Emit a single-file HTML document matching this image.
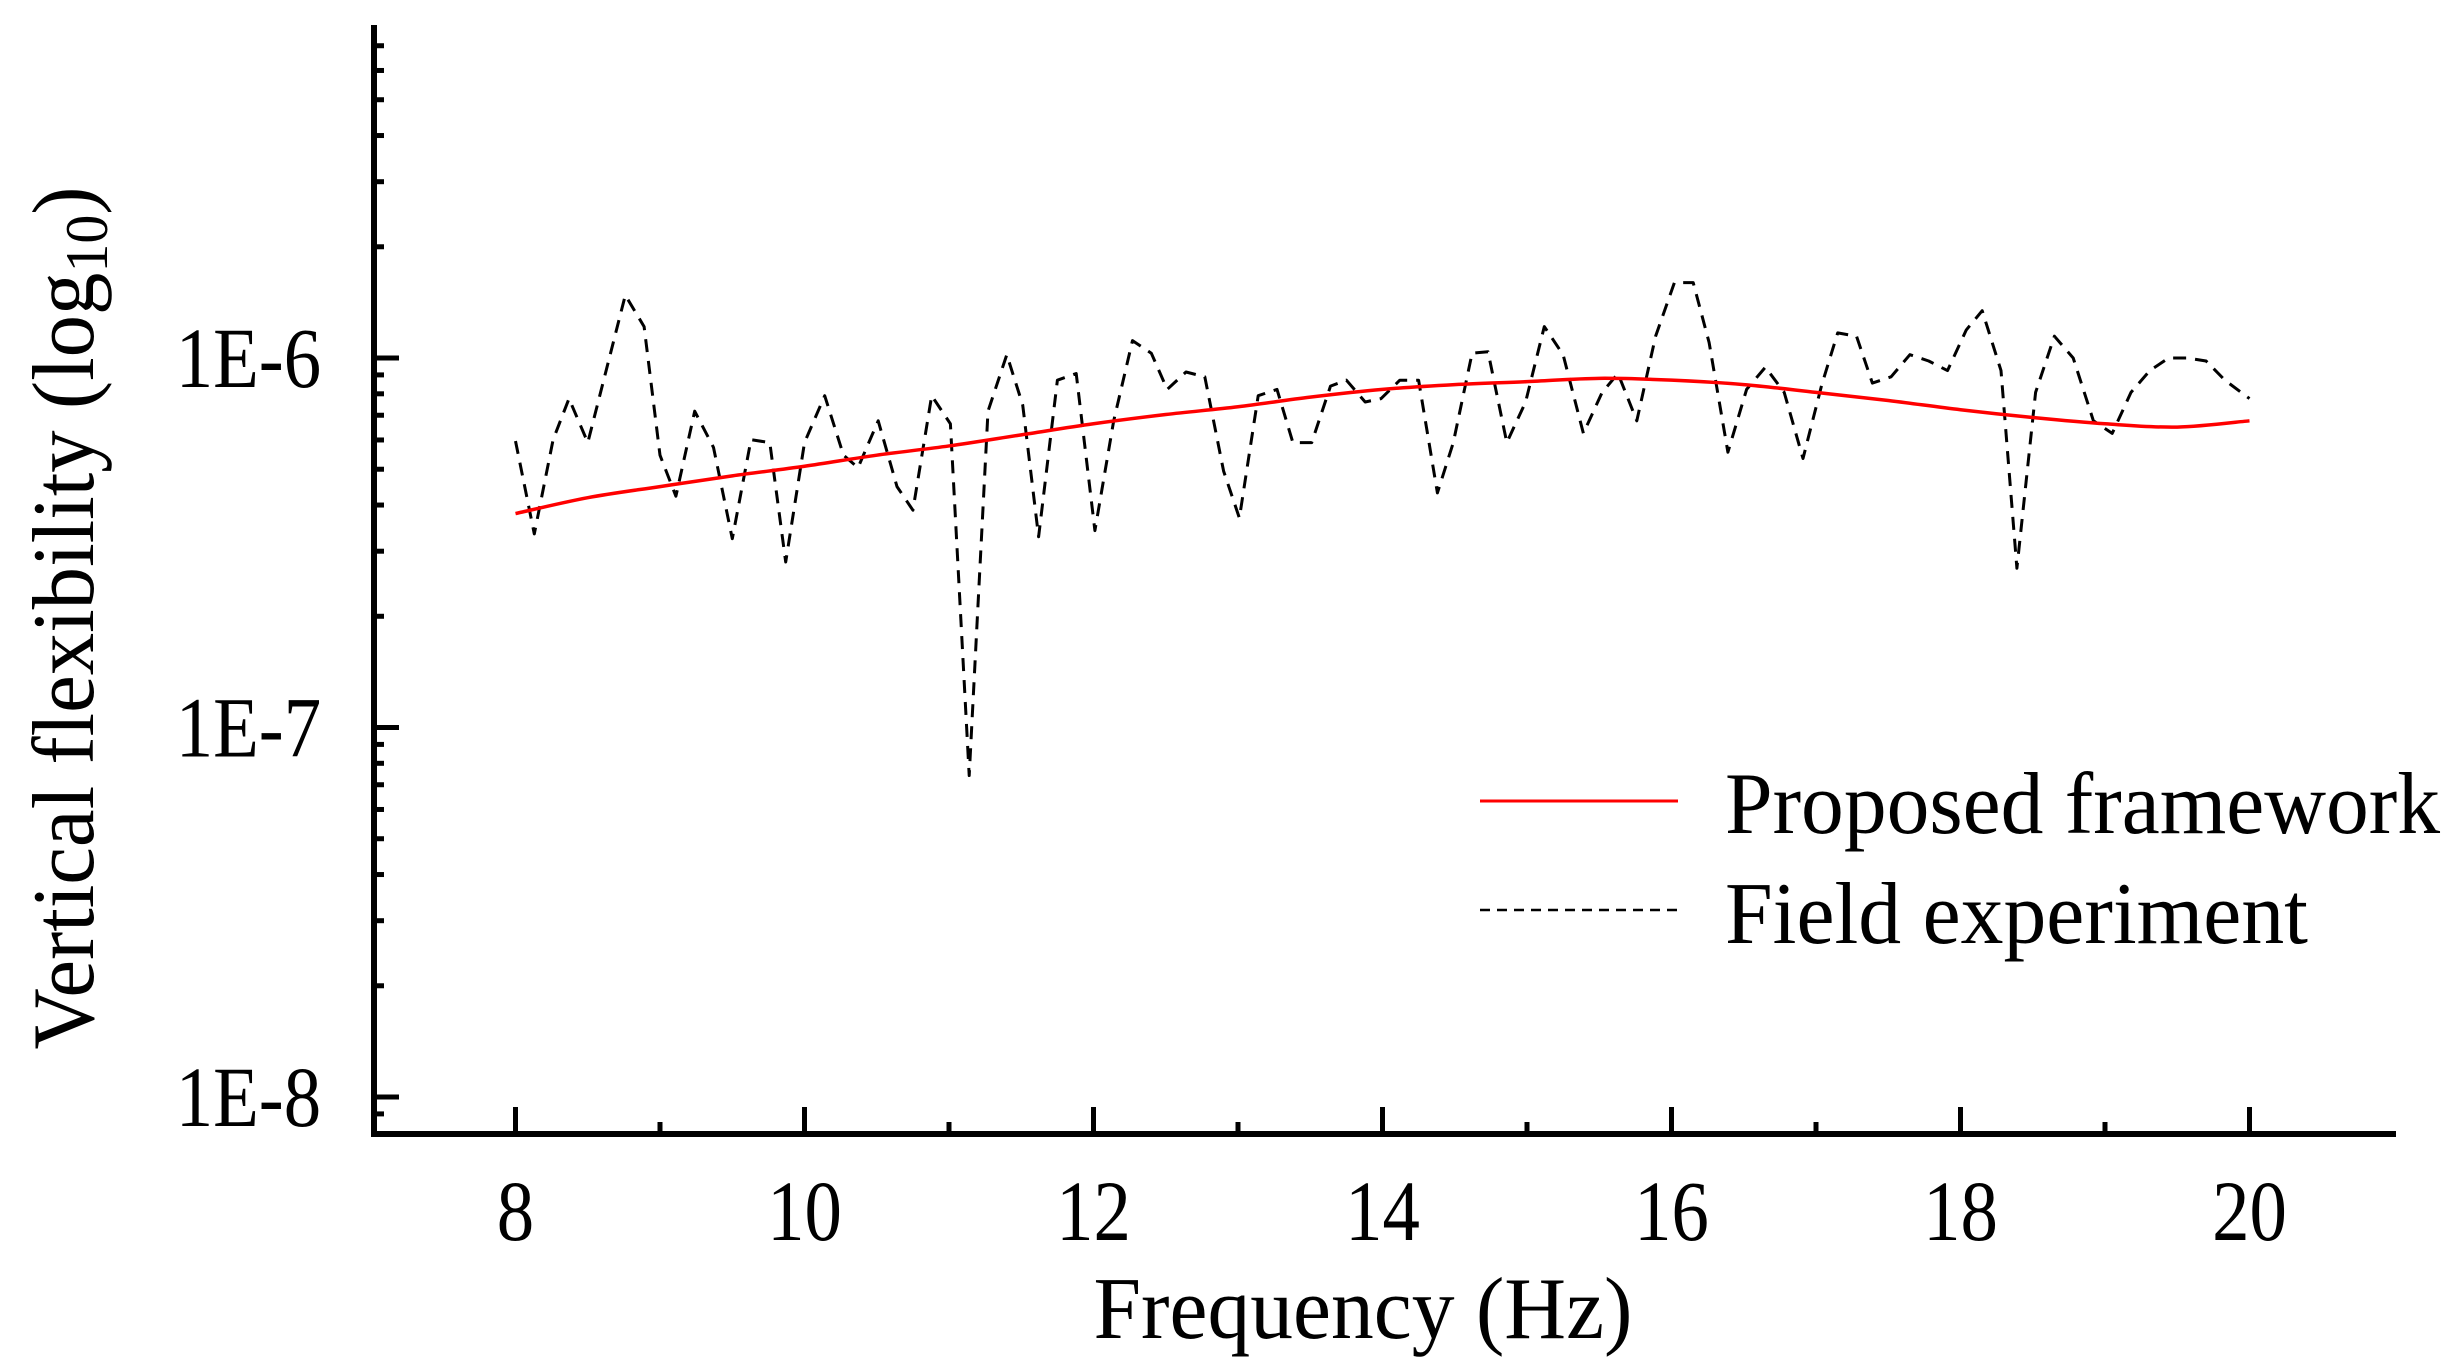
<!DOCTYPE html>
<html><head><meta charset="utf-8"><style>
html,body{margin:0;padding:0;background:#fff;}
svg{display:block;font-family:"Liberation Serif","Times New Roman",serif;}
.tk{transform-box:fill-box;transform-origin:center;transform:scaleX(.87);}
</style></head><body>
<svg id="chart" width="2463" height="1371" viewBox="0 0 2463 1371" xmlns="http://www.w3.org/2000/svg">
<g id="marks"></g>
<g id="axes"></g>
<text x="1363" y="1338" font-size="88" text-anchor="middle" textLength="539" lengthAdjust="spacingAndGlyphs">Frequency (Hz)</text>
<text transform="translate(93,618) rotate(-90)" font-size="88" text-anchor="middle" textLength="863" lengthAdjust="spacingAndGlyphs">Vertical flexibility (log<tspan font-size="60" dy="14">10</tspan><tspan dy="-14">)</tspan></text>
<g>
<line x1="1480" y1="801" x2="1678" y2="801" stroke="#ff0000" stroke-width="3"/>
<text x="1725" y="833" font-size="88" textLength="715" lengthAdjust="spacingAndGlyphs">Proposed framework</text>
<line x1="1480" y1="910" x2="1678" y2="910" stroke="#000" stroke-width="2.5" stroke-dasharray="10,7"/>
<text x="1725" y="943" font-size="88" textLength="583" lengthAdjust="spacingAndGlyphs">Field experiment</text>
</g>
</svg>
<script>
const xTickLabels=["8","10","12","14","16","18","20"];
const xTickValues=[8,10,12,14,16,18,20];
const yTickLabels=["1E-6","1E-7","1E-8"];
const yTickExps=[-6,-7,-8];
const proposedFreq=[8,8.5,9,9.5,10,10.5,11,11.5,12,12.5,13,13.5,14,14.5,15,15.5,16,16.5,17,17.5,18,18.5,19,19.5,20];
const proposedLog=[-6.421,-6.378,-6.348,-6.319,-6.293,-6.263,-6.238,-6.208,-6.178,-6.153,-6.132,-6.106,-6.085,-6.072,-6.064,-6.055,-6.060,-6.072,-6.093,-6.115,-6.140,-6.161,-6.178,-6.187,-6.170];
const fieldFreq=[8.00,8.13,8.26,8.37,8.50,8.63,8.76,8.89,9.00,9.11,9.24,9.37,9.50,9.63,9.76,9.87,10.00,10.14,10.27,10.37,10.51,10.64,10.75,10.88,11.01,11.14,11.27,11.40,11.51,11.62,11.75,11.88,12.01,12.14,12.27,12.40,12.51,12.64,12.77,12.90,13.01,13.14,13.27,13.38,13.51,13.64,13.75,13.88,13.99,14.12,14.25,14.38,14.49,14.62,14.73,14.86,14.99,15.12,15.25,15.39,15.52,15.63,15.76,15.89,16.02,16.15,16.26,16.39,16.52,16.65,16.78,16.91,17.04,17.15,17.28,17.39,17.52,17.65,17.78,17.91,18.04,18.15,18.28,18.39,18.52,18.65,18.78,18.92,19.05,19.18,19.31,19.44,19.57,19.70,19.83,20.00];
const fieldLog=[-6.225,-6.476,-6.221,-6.110,-6.229,-6.030,-5.830,-5.915,-6.263,-6.374,-6.144,-6.242,-6.489,-6.221,-6.229,-6.552,-6.229,-6.102,-6.263,-6.297,-6.170,-6.348,-6.412,-6.102,-6.178,-7.130,-6.144,-5.991,-6.127,-6.484,-6.060,-6.042,-6.467,-6.170,-5.953,-5.987,-6.085,-6.038,-6.051,-6.306,-6.433,-6.102,-6.085,-6.229,-6.229,-6.076,-6.060,-6.119,-6.110,-6.060,-6.060,-6.365,-6.229,-5.987,-5.983,-6.229,-6.119,-5.915,-5.991,-6.204,-6.093,-6.042,-6.170,-5.941,-5.796,-5.796,-5.958,-6.255,-6.085,-6.025,-6.093,-6.272,-6.072,-5.932,-5.941,-6.068,-6.051,-5.991,-6.008,-6.034,-5.924,-5.872,-6.034,-6.569,-6.093,-5.941,-6.000,-6.170,-6.204,-6.093,-6.034,-6.000,-6.000,-6.008,-6.060,-6.110];

const NS="http://www.w3.org/2000/svg";
const X0=374,X1=2393,Y0=28,Y1=1134;
function xs(f){return 515.5+(f-8)*144.5;}
function ys(l){return 358+(-6-l)*369.5;}
function mk(tag,attrs,parent){const e=document.createElementNS(NS,tag);for(const k in attrs)e.setAttribute(k,attrs[k]);parent.appendChild(e);return e;}
const marks=document.getElementById('marks');
const axes=document.getElementById('axes');

// field experiment (dashed polyline)
let d="";
fieldFreq.forEach((f,i)=>{d+=(i?"L":"M")+xs(f).toFixed(1)+","+ys(fieldLog[i]).toFixed(1);});
const fp=mk('path',{d:d,fill:"none",stroke:"#000","stroke-width":3,"stroke-dasharray":"13,9","stroke-linejoin":"round"},marks);



// proposed framework (smooth curve)
const pts=proposedFreq.map((f,i)=>[xs(f),ys(proposedLog[i])]);
let p="M"+pts[0][0]+","+pts[0][1];
for(let i=0;i<pts.length-1;i++){
  const a=pts[Math.max(0,i-1)],b=pts[i],c=pts[i+1],e=pts[Math.min(pts.length-1,i+2)];
  p+="C"+(b[0]+(c[0]-a[0])/6)+","+(b[1]+(c[1]-a[1])/6)+" "+(c[0]-(e[0]-b[0])/6)+","+(c[1]-(e[1]-b[1])/6)+" "+c[0]+","+c[1];
}
const pp=mk('path',{d:p,fill:"none",stroke:"#ff0000","stroke-width":3.5},marks);



// axes
const ax=mk('path',{d:`M${X0},${Y0}V${Y1}H${X1}`,fill:"none",stroke:"#000","stroke-width":6,"stroke-linecap":"square"},axes);



// x ticks
for(let f=8;f<=20;f++){
  const major=(f%2===0);
  const t=mk('line',{x1:xs(f),x2:xs(f),y1:Y1,y2:Y1-(major?27:12),stroke:"#000","stroke-width":5},axes);
  
  
}
xTickValues.forEach((v,i)=>{
  const t=mk('text',{x:xs(v),y:1240,"font-size":86,"text-anchor":"middle",class:"tk"},axes);
  t.textContent=xTickLabels[i];
  
  
});
// y ticks
for(let dec=-9;dec<=-6;dec++){
  for(let m=1;m<=9;m++){
    const y=ys(dec+Math.log10(m));
    if(y<Y0+8||y>Y1-8)continue;
    const t=mk('line',{x1:X0,x2:X0+(m===1?25:10),y1:y,y2:y,stroke:"#000","stroke-width":5},axes);
    
    
  }
}
yTickExps.forEach((v,i)=>{
  const t=mk('text',{x:332,y:ys(v)+29,"font-size":86,"text-anchor":"end",class:"tk"},axes);
  t.textContent=yTickLabels[i];
  
  
});
</script>
</body></html>
